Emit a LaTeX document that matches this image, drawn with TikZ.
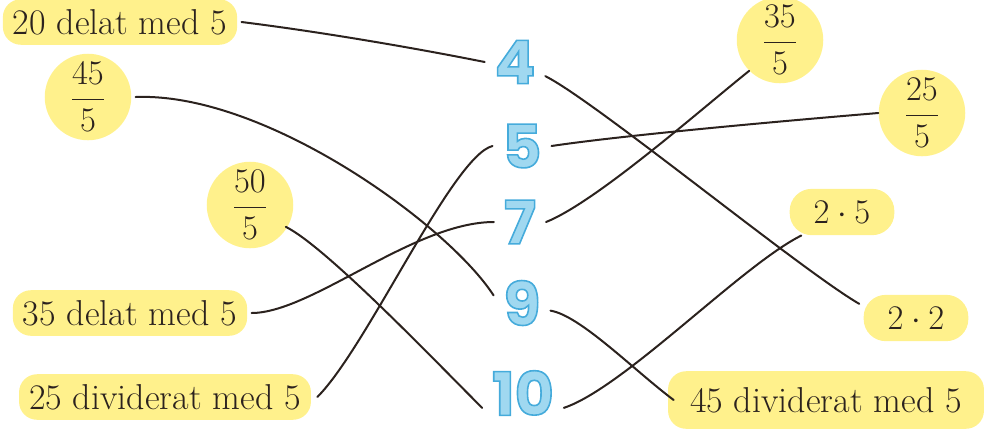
\documentclass[tikz,border=0pt]{standalone}
\usepackage{amsmath}
\usepackage{fontspec}
\usepackage{tikz}
\usetikzlibrary{positioning}
\newfontfamily\numfont{Poppins}
\definecolor{hlyellow}{RGB}{255,241,140}
\definecolor{wirebrown}{RGB}{43,34,30}
\definecolor{numfill}{RGB}{160,216,240}
% outlined digits: fill and stroke the glyphs
\newcommand{\bignum}[1]{\textcolor{numfill}{\special{pdf:code q 2 Tr 0.8 w 0.27 0.67 0.86 RG}#1\special{pdf:code Q}}}
\tikzset{
  hlbox/.style={ fill=hlyellow, rounded corners=9pt, inner xsep=5pt, inner ysep=5pt,
    font=\fontsize{18}{21}\selectfont, text=wirebrown }
}
\tikzset{
  hlfrac/.style={ fill=hlyellow, circle, inner sep=1.5pt,
    font=\fontsize{18}{21}\selectfont, text=wirebrown }
}
\tikzset{
  hldot/.style={ fill=hlyellow, rounded corners=11pt, inner xsep=12pt, inner ysep=6pt,
    font=\fontsize{18}{21}\selectfont, text=wirebrown }
}
\tikzset{
  numnode/.style={ inner sep=2pt, outer sep=3pt, font=\numfont\bfseries\fontsize{30}{30}\selectfont }
}
\tikzset{
  wire/.style={ draw=wirebrown, line width=1pt, line cap=round }
}

\begin{document}
\begin{tikzpicture}[x=0.5pt, y=-0.5pt]
      \useasboundingbox (0, 0) rectangle (985, 435);
      % left column
      \node[hlbox] (t20) at (120, 22) {20 delat med 5};
      \node[hlfrac] (f45) at (88, 97) {$\dfrac{45}{5}$};
      \node[hlfrac] (f50) at (250, 205) {$\dfrac{50}{5}$};
      \node[hlbox] (t35) at (130, 313) {35 delat med 5};
      \node[hlbox] (t25) at (165, 397) {25 dividerat med 5};
      % right column
      \node[hlfrac] (f35) at (780, 40) {$\dfrac{35}{5}$};
      \node[hlfrac] (f25) at (922, 113) {$\dfrac{25}{5}$};
      \node[hldot] (p25) at (842, 212) {$2\cdot 5$};
      \node[hldot] (p22) at (916, 318) {$2\cdot 2$};
      \node[hlbox, inner xsep=11pt, inner ysep=8pt] (t45) at (826, 400) {45 dividerat med 5};
      % numbers in the middle
      \node[numnode] (n4) at (515, 62) {\bignum{4}};
      \node[numnode] (n5) at (522, 146) {\bignum{5}};
      \node[numnode] (n7) at (520, 222) {\bignum{7}};
      \node[numnode] (n9) at (522, 303) {\bignum{9}};
      \node[numnode] (n10) at (523, 393) {\bignum{10}};
      % connectors
      \draw[wire] ([xshift=2pt]t20.east) .. controls +(80, 10) and +(-70, -14) .. (n4.west);
      \draw[wire] (n4.-25) .. controls +(50, 25) and +(-60, -35) .. ([xshift=-2pt]p22.165);
      \draw[wire] ([xshift=2pt]f45.east) .. controls +(130, -5) and +(-45, -70) .. (n9.165);
      \draw[wire] (n5.west) .. controls +(-40, 10) and +(50, -50) .. ([xshift=3pt]t25.east);
      \draw[wire] (n5.east) .. controls +(80, -12) and +(-60, 5) .. (f25.west);
      \draw[wire] ([xshift=-1pt]f50.-30) .. controls +(40, 20) and +(-50, -50) .. (n10.200);
      \draw[wire] ([xshift=2pt]t35.east) .. controls +(60, 0) and +(-80, 0) .. (n7.west);
      \draw[wire] (n7.east) .. controls +(50, -20) and +(-50, 40) .. (f35.-135);
      \draw[wire] (n9.-15) .. controls +(30, 5) and +(-40, -30) .. ([xshift=3pt]t45.west);
      \draw[wire] (n10.-20) .. controls +(60, -20) and +(-60, 30) .. ([xshift=6pt]p25.south west);
    \end{tikzpicture}
\end{document}
